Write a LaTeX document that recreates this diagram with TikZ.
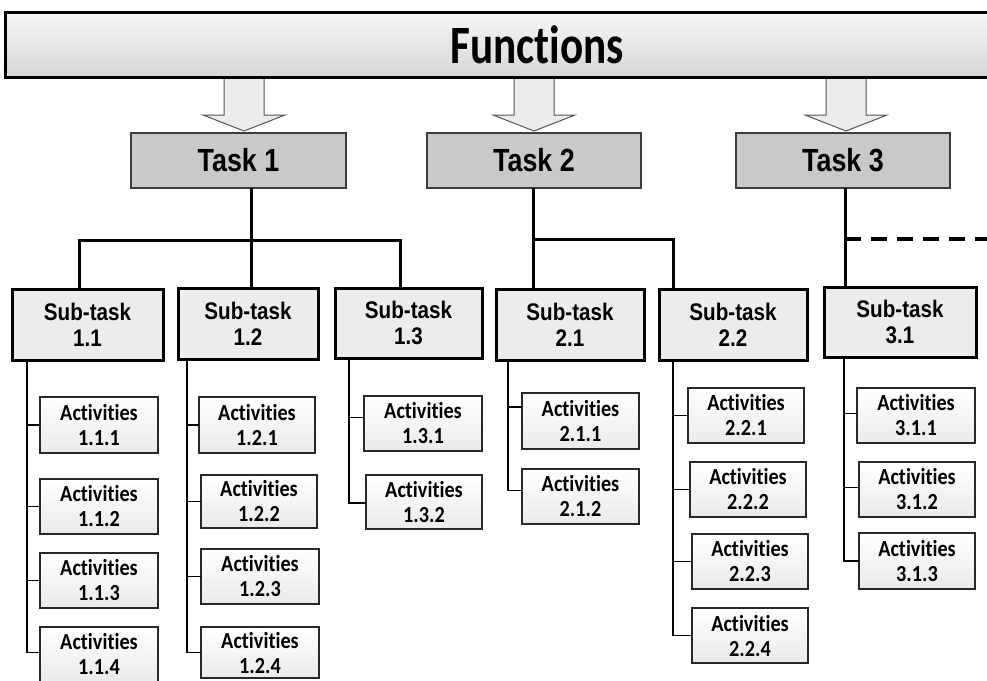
\documentclass[tikz,border=0pt]{standalone}
\usepackage{fontspec}
\newfontfamily\tasksans{Liberation Sans}[FakeStretch=0.84]
\newfontfamily\subsans{Liberation Sans}[FakeStretch=0.86]
\newfontfamily\calsans{Carlito}[FakeStretch=0.88, Ligatures=NoCommon]
\newfontfamily\calhead{Carlito}[FakeStretch=0.8, Ligatures=NoCommon]

\definecolor{bartop}{RGB}{247,247,247}
\definecolor{barbot}{RGB}{214,214,214}
\definecolor{taskfill}{RGB}{201,201,201}
\definecolor{taskline}{RGB}{60,60,60}
\definecolor{subfill}{RGB}{236,236,236}
\definecolor{actfill}{RGB}{234,234,234}
\definecolor{actline}{RGB}{40,40,40}
\definecolor{arrowfill}{RGB}{236,236,236}
\definecolor{arrowline}{RGB}{85,85,85}

% place a box by its corners (x1,y1)-(x2,y2), y counted downwards
\newcommand\cornerbox[7]{%
  \node[#2, minimum width={#5-#3}, minimum height={#6-#4}] (#1)
    at ({(#3+#5)/2},{(#4+#6)/2}) {#7};}

\tikzset{
  every node/.style={inner sep=0pt, outer sep=0pt},
  funcbar/.style={draw=black, line width=3pt, top color=bartop, bottom color=barbot},
  functitle/.style={font=\calhead\bfseries\fontsize{54}{58}\selectfont},
  taskbox/.style={draw=taskline, line width=1.8pt, fill=taskfill,
    font=\tasksans\bfseries\fontsize{32}{36}\selectfont},
  subbox/.style={draw=black, line width=3pt, fill=subfill, align=center,
    font=\subsans\bfseries\fontsize{24}{26}\selectfont},
  actbox/.style={draw=actline, line width=1.4pt, top color=white, bottom color=actfill,
    align=center, font=\calsans\bfseries\fontsize{23}{25}\selectfont},
  trunk/.style={line width=3pt},
  dashtrunk/.style={line width=3.6pt, dash pattern=on 16pt off 10pt},
  spine/.style={line width=1.4pt},
  bigarrow/.style={draw=arrowline, line width=1pt, fill=arrowfill, line join=miter},
}

\begin{document}
\begin{tikzpicture}[x=1pt, y=-1pt]
\useasboundingbox[fill=white] (0,0) rectangle (987,680);

% hollow arrows from the function bar down to the tasks
\foreach \c in {244,534,846}{
  \draw[bigarrow] (\c-20,70) -- (\c-20,115) -- (\c-41,115) -- (\c,131)
    -- (\c+41,115) -- (\c+20,115) -- (\c+20,70);
}

% function bar
\cornerbox{func}{funcbar}{5}{12}{1000}{77}{}
\node[functitle] (functitle) at (537,45) {Functions};

% tasks
\cornerbox{t1}{taskbox}{131}{133}{346}{188}{Task 1}
\cornerbox{t2}{taskbox}{427}{133}{641}{188}{Task 2}
\cornerbox{t3}{taskbox}{736}{133}{950}{188}{Task 3}

% sub-tasks
\cornerbox{s11}{subbox}{12}{289}{163}{360}{Sub-task\\1.1}
\cornerbox{s12}{subbox}{178}{288}{318}{359}{Sub-task\\1.2}
\cornerbox{s13}{subbox}{335}{288}{482}{358}{Sub-task\\1.3}
\cornerbox{s21}{subbox}{496}{289}{644}{360}{Sub-task\\2.1}
\cornerbox{s22}{subbox}{659}{289}{807}{360}{Sub-task\\2.2}
\cornerbox{s31}{subbox}{824}{287}{976}{357}{Sub-task\\3.1}

% activities
\cornerbox{a111}{actbox}{40}{397}{158}{453}{Activities\\1.1.1}
\cornerbox{a112}{actbox}{40}{479}{158}{534}{Activities\\1.1.2}
\cornerbox{a113}{actbox}{40}{553}{158}{608}{Activities\\1.1.3}
\cornerbox{a114}{actbox}{40}{627}{158}{681.5}{Activities\\1.1.4}

\cornerbox{a121}{actbox}{199}{397}{315}{453}{Activities\\1.2.1}
\cornerbox{a122}{actbox}{201}{475}{317}{528}{Activities\\1.2.2}
\cornerbox{a123}{actbox}{201}{549}{319}{604}{Activities\\1.2.3}
\cornerbox{a124}{actbox}{201}{627}{319}{678}{Activities\\1.2.4}

\cornerbox{a131}{actbox}{364}{396}{482}{451}{Activities\\1.3.1}
\cornerbox{a132}{actbox}{366}{475}{482}{529}{Activities\\1.3.2}

\cornerbox{a211}{actbox}{522}{393}{639}{449}{Activities\\2.1.1}
\cornerbox{a212}{actbox}{522}{469}{639}{524}{Activities\\2.1.2}

\cornerbox{a221}{actbox}{688}{388}{804}{443}{Activities\\2.2.1}
\cornerbox{a222}{actbox}{690}{462}{806}{517}{Activities\\2.2.2}
\cornerbox{a223}{actbox}{692}{534}{808}{589}{Activities\\2.2.3}
\cornerbox{a224}{actbox}{692}{608}{808}{663}{Activities\\2.2.4}

\cornerbox{a311}{actbox}{857}{388}{975}{443}{Activities\\3.1.1}
\cornerbox{a312}{actbox}{859}{462}{975}{517}{Activities\\3.1.2}
\cornerbox{a313}{actbox}{859}{533}{975}{589}{Activities\\3.1.3}

% junctions of the task trees
\coordinate (j1) at (251,240);
\coordinate (j2) at (533,239);
\coordinate (j3) at (845,239);
\coordinate (dashend) at (995,239);

% task 1 tree
\draw[trunk] (t1.south -| j1) -- (s12.north -| j1);
\draw[trunk] ([xshift=-8.5pt]s11.north) |- (j1) -| ([xshift=-8pt]s13.north);
% task 2 tree
\draw[trunk] (t2.south -| j2) -- (s21.north -| j2);
\draw[trunk] (j2) -| ([xshift=-60pt]s22.north);
% task 3 tree, continuing off to the right
\draw[trunk] (t3.south -| j3) -- (s31.north -| j3);
\draw[dashtrunk] (j3) -- (dashend);

% activity spines
\coordinate (v11) at (27,0);
\coordinate (v12) at (187,0);
\coordinate (v13) at (349,0);
\coordinate (v21) at (508,0);
\coordinate (v22) at (673,0);
\coordinate (v31) at (844,0);

\draw[spine] (s11.south -| v11) |- ([yshift=2pt]a114.west);
\foreach \a in {a111,a112,a113}{\draw[spine] (\a.west -| v11) -- (\a.west);}

\draw[spine] (s12.south -| v12) |- (a124.west);
\foreach \a in {a121,a122,a123}{\draw[spine] (\a.west -| v12) -- (\a.west);}

\draw[spine] (s13.south -| v13) |- ([yshift=-1pt]a132.west);
\draw[spine] ([yshift=6pt]a131.west -| v13) -- ([yshift=6pt]a131.west);

\draw[spine] (s21.south -| v21) |- ([yshift=6pt]a212.west);
\draw[spine] ([yshift=14pt]a211.west -| v21) -- ([yshift=14pt]a211.west);

\draw[spine] (s22.south -| v22) |- (a224.west);
\foreach \a in {a221,a222,a223}{\draw[spine] (\a.west -| v22) -- (\a.west);}

\draw[spine] (s31.south -| v31) |- (a313.west);
\foreach \a in {a311,a312}{\draw[spine] ([yshift=2pt]\a.west -| v31) -- ([yshift=2pt]\a.west);}
\end{tikzpicture}
\end{document}
